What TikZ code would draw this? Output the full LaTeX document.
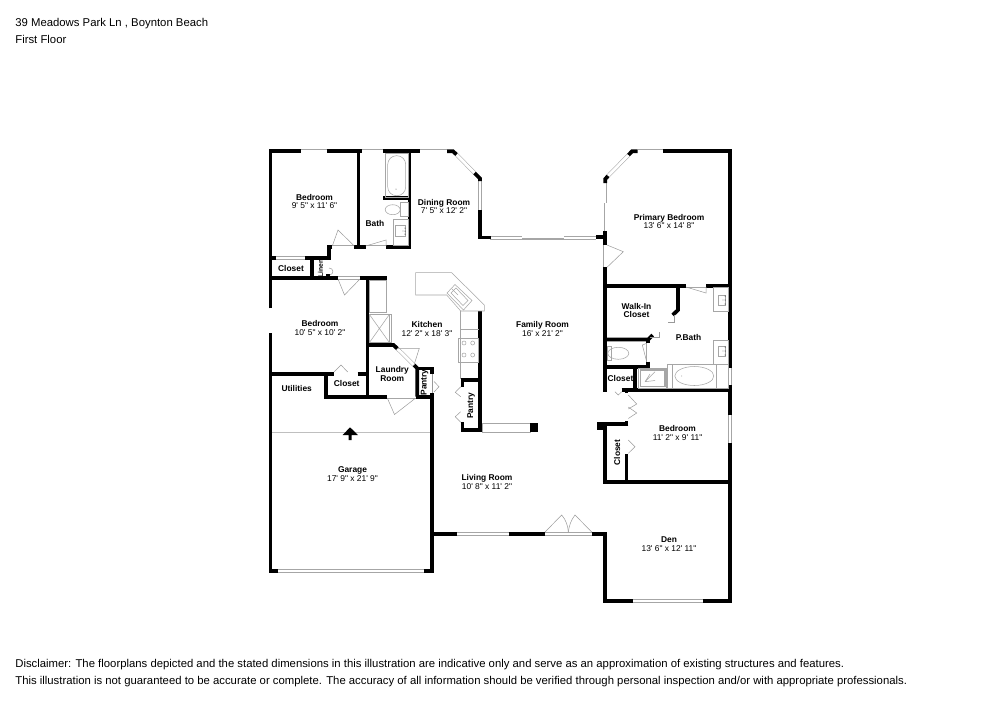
\documentclass[tikz,border=0pt]{standalone}
\usepackage{fontspec}
\newfontfamily\planfont{Liberation Sans}
\tikzset{
    wall/.style={line width=2.15pt, line join=miter},
    win/.style={draw=black!35, line width=0.3pt, double=white, double distance=1.6pt},
    fixture/.style={draw=black!35, line width=0.3pt},
    door/.style={draw=black!40, line width=0.28pt},
    roomlabel/.style={font=\planfont\fontsize{4.78}{5.05}\selectfont, align=center, inner sep=0pt},
    smalllabel/.style={font=\planfont\bfseries\fontsize{4.78}{5.05}\selectfont, align=center, inner sep=0pt},
    infotext/.style={font=\planfont\fontsize{6.45}{7}\selectfont, anchor=base west, inner sep=0pt}
}

\begin{document}
\begin{tikzpicture}[x=0.02cm, y=-0.02cm]
    \fill[white] (0,0) rectangle (1000,707);
    \useasboundingbox (0,0) rectangle (1000,707);
    % header and footer
    \node (address) at (15,26) [infotext] {39 Meadows Park Ln , Boynton Beach};
    \node (floorname) at (15,43.5) [infotext] {First Floor};
    \node (disclaimerA) at (15,667) [infotext] {Disclaimer: The floorplans depicted and the stated dimensions in this illustration are indicative only and serve as an approximation of existing structures and features.};
    \node (disclaimerB) at (15,684.5) [infotext] {This illustration is not guaranteed to be accurate or complete. The accuracy of all information should be verified through personal inspection and/or with appropriate professionals.};
    % windows and sills
    \draw[win] (301,151.3) -- (327,151.3);
    \draw[win] (362,151.3) -- (383,151.3);
    \draw[win] (420,151.3) -- (447,151.3);
    \draw[win] (456.5,154.5) -- (474.5,173);
    \draw[win] (480,181) -- (480,210);
    \draw[win] (490,238) -- (596,238);
    \draw[win] (522.3,236.7) -- (564.3,236.7);
    \draw[win] (637.7,151.3) -- (663.3,151.3);
    \draw[win] (628.5,155) -- (608,176);
    \draw[win] (604.8,183) -- (604.8,210);
    \draw[win] (606.3,203.3) -- (606.3,231);
    \draw[win] (605.3,245) -- (605.3,267.3);
    \draw[win] (270.5,308.3) -- (270.5,333.3);
    \draw[win] (276,258) -- (305,258);
    \draw[win] (332.3,247.3) -- (354.3,247.3);
    \draw[win] (365.7,247.3) -- (386,247.3);
    \draw[win] (338,278) -- (360,278);
    \draw[win] (387.3,396.7) -- (415.7,396.7);
    \draw[win] (397.3,348.6) -- (414,365);
    \draw[win] (278,571) -- (424,571);
    \draw[win] (456.7,534) -- (508.7,534);
    \draw[win] (545,534) -- (591.7,534);
    \draw[win] (632.7,601) -- (703,601);
    \draw[win] (730,368) -- (730,385);
    \draw[win] (730,415) -- (730,443.3);
    \draw[win] (686,285.7) -- (706,285.7);
    \draw[win] (648.3,343) -- (648.3,361.7);
    \draw[win] (626.5,393) -- (626.5,421);
    % half wall
    \draw[fixture] (482,423.5) rectangle (530,432);
    % garage door line
    \draw[draw=black!25, line width=0.7pt] (272,432.7) -- (431,432.7);
    % walls
    \draw[wall] (270.5,572.7) -- (270.5,333.3);
    \draw[wall] (270.5,308.3) -- (270.5,151.3) -- (301,151.3);
    \draw[wall] (327,151.3) -- (362,151.3);
    \draw[wall] (383,151.3) -- (420,151.3);
    \draw[wall] (447,151.3) -- (453,151.3) -- (456.5,154.5);
    \draw[wall] (474.5,173) -- (480,178.5) -- (480,181);
    \draw[wall] (480,210) -- (480,237.6) -- (490.5,237.6);
    \draw[wall] (358.5,151.3) -- (358.5,249);
    \draw[wall] (409.5,151.3) -- (409.5,247.3) -- (386,247.3);
    \draw[wall] (408,198.3) -- (383.3,198.3);
    \draw[wall] (354.3,247.3) -- (365.7,247.3);
    \draw[wall] (332.3,247.3) -- (328.7,247.3) -- (328.7,258) -- (305,258);
    \draw[wall] (270.5,258) -- (276,258);
    \draw[wall] (311.7,258) -- (311.7,278);
    \draw[wall] (326,276) -- (330,276);
    \draw[wall] (270.5,278) -- (338,278);
    \draw[wall] (360,278) -- (387,278);
    \draw[wall] (367.5,278) -- (367.5,398);
    \draw[wall] (367.5,345) -- (393.5,345) -- (397.3,348.6);
    \draw[wall] (414,365) -- (417.3,368.3) -- (417.3,396.7);
    \draw[wall] (415.7,368.5) -- (432.3,368.5) -- (432.3,374);
    \draw[wall] (270.5,374.3) -- (334,374.3);
    \draw[wall] (357.7,374.3) -- (367.5,374.3);
    \draw[wall] (326,374.3) -- (326,396.7) -- (387.3,396.7);
    \draw[wall] (415.7,396.7) -- (432.3,396.7);
    \draw[wall] (432.3,393) -- (432.3,572.7);
    \draw[wall] (270.5,571) -- (278,571);
    \draw[wall] (424,571) -- (434,571);
    \draw[wall] (432.3,534) -- (456.7,534);
    \draw[wall] (508.7,534) -- (545,534);
    \draw[wall] (591.7,534) -- (605.3,534) -- (605.3,601) -- (632.7,601);
    \draw[wall] (703,601) -- (730,601) -- (730,443.3);
    \draw[wall] (730,415) -- (730,385);
    \draw[wall] (730,368) -- (730,151.3) -- (663.3,151.3);
    \draw[wall] (637.7,151.3) -- (632,151.3) -- (628.5,155);
    \draw[wall] (608,176) -- (605.3,179) -- (605.3,183);
    \draw[wall] (605.3,231) -- (605.3,245);
    \draw[wall] (596,237) -- (605.3,237);
    \draw[wall] (605.3,267.3) -- (605.3,391.7);
    \draw[wall] (605.3,285.7) -- (686,285.7);
    \draw[wall] (706,285.7) -- (730,285.7);
    \draw[wall] (678,285.7) -- (678,310) -- (672.7,315);
    \draw[wall] (605.3,339.5) -- (648.3,339.5) -- (652.7,335);
    \draw[wall] (648.3,339.5) -- (648.3,343);
    \draw[wall] (648.3,361.7) -- (648.3,366.7) -- (605.3,366.7);
    \draw[wall] (635.3,366.7) -- (635.3,390);
    \draw[wall] (621.7,390) -- (730,390);
    \draw[wall] (626.5,390) -- (626.5,393);
    \draw[wall] (626.5,421) -- (626.5,425.7);
    \draw[wall] (628.3,423.7) -- (598,423.7);
    \draw[wall] (626.5,454) -- (626.5,482);
    \draw[wall] (605.3,423.7) -- (605.3,482) -- (730,482);
    \fill (597.3,421.7) rectangle (607.3,430);
    % pantry and post by the family room
    \draw[wall] (480,311) -- (480,432) ;
    \draw[wall] (460.7,380) -- (480,380);
    \draw[wall] (462.5,380) -- (462.5,386.7);
    \draw[wall] (462.5,422) -- (462.5,430) -- (482,430);
    \fill (530,423.3) rectangle (538,432);
    \fill (460,315) rectangle (461.4,318);
    % doors
    \draw[door] (332.3,246) -- (338,230) -- (354.3,246);
    \draw[door] (365.7,246) -- (386,240) -- (386,246);
    \draw[door] (338,279) -- (344.5,295) -- (360,279);
    \draw[door] (329,268) .. controls (334,268) and (334,274) .. (330,275);
    \draw[door] (387.3,398) -- (394.5,414.5) -- (415.7,398);
    \draw[door] (397.3,348.3) -- (419.3,348.3) -- (414,365);
    \draw[door] (334,372) -- (341,365) -- (347.7,372);
    \draw[door] (432.3,374) -- (432.3,393);
    \draw[door] (434,381.5) -- (439,386.7) -- (434,392);
    \draw[door] (460.7,386.7) -- (455.3,392.3) -- (460.7,396.7);
    \draw[door] (460.7,411.7) -- (455.3,416.7) -- (460.7,422.3);
    \draw[door] (607,245) -- (623.3,251.7) -- (607,267.3);
    \draw[door] (686,287) -- (706,293) -- (706,287);
    \draw[door] (674,315) -- (674,322.7) -- (668,322.7);
    \draw[door] (650,337.3) -- (659.3,337.3) -- (659.3,331.7);
    \draw[door] (646.7,343.3) -- (642.3,345) -- (646.7,361.7);
    \draw[door] (615,391.7) -- (618.3,395) -- (621.7,391.7);
    \draw[door] (628.3,395) -- (636.7,404) -- (628.3,409);
    \draw[door] (628.3,407) -- (636.7,413) -- (628.3,418.5);
    \draw[door] (628.3,440) -- (635,446.7) -- (628.3,453.3);
    \draw[door] (545,532) -- (561.7,515) .. controls (566,520) and (568,526) .. (568.3,532);
    \draw[door] (568.3,532) .. controls (569,526) and (571,520) .. (575,515) -- (591.7,532);
    % bath fixtures
    \draw[fixture] (385,153) rectangle (408,197);
    \draw[fixture, rounded corners=5pt] (387.7,155.7) rectangle (405.7,195.7);
    \fill[black!70] (396,189) circle [radius=0.5];
    \draw[fixture] (400.7,202) rectangle (408,216);
    \draw[fixture] (392.7,209.7) ellipse [x radius=7.5, y radius=5];
    \draw[fixture] (393.3,219) rectangle (408,245);
    \draw[fixture] (395,225) rectangle (405,236.7);
    \fill (405,228) circle [radius=0.5] (405,231) circle [radius=0.5] (405,234) circle [radius=0.5] (403,231) circle [radius=0.4];
    % closet and vent by the kitchen
    \draw[fixture] (369.3,280) rectangle (386.7,312.7);
    \draw[fixture] (369.3,314.3) rectangle (391.7,342.7);
    \draw[fixture] (369.3,314.3) -- (389.5,342.7) (389.5,314.3) -- (369.3,342.7);
    \draw[fixture] (389.5,314.3) -- (389.5,342.7);
    % kitchen bar and counter
    \draw[fixture] (415.7,272.7) -- (451.7,272.7) -- (484.3,305) -- (484.3,311) -- (478.7,311) -- (460.7,311) -- (446.7,295) -- (415.7,295) -- cycle;
    \draw[fixture] (455,284.5) -- (447,293) -- (463.5,310) -- (472,300.5) -- cycle;
    \draw[fixture] (456,288) -- (451,293) -- (463,305.5) -- (468,300.5) -- cycle;
    \draw[fixture] (452,289) -- (458,295);
    \draw[fixture] (460.7,311) -- (460.7,379) (460.7,329.3) -- (478.7,329.3);
    \draw[fixture] (458,338) rectangle (478.7,362);
    \draw[fixture] (464,343) circle [radius=2] (472.7,343) circle [radius=2] (464,355) circle [radius=2] (472.7,355) circle [radius=2];
    % primary bath fixtures
    \draw[fixture] (713.3,287.3) rectangle (728.3,311.7);
    \draw[fixture] (718.3,295) rectangle (725,305);
    \fill (725,296) circle [radius=0.5] (725,300) circle [radius=0.5] (725,304) circle [radius=0.5] (723,300) circle [radius=0.4];
    \draw[fixture] (713.3,340) rectangle (728.3,364);
    \draw[fixture] (718.3,346) rectangle (725,356);
    \fill (725,347) circle [radius=0.5] (725,351) circle [radius=0.5] (725,355) circle [radius=0.5] (723,351) circle [radius=0.4];
    \draw[fixture] (607.3,346.7) rectangle (611,360);
    \draw[fixture] (618.3,353.3) ellipse [x radius=10.5, y radius=6];
    \draw[fixture] (667.3,364.3) rectangle (728.3,388);
    \draw[fixture] (672.3,364.3) -- (672.3,388) (716.7,364.3) -- (716.7,388);
    \draw[fixture] (694.3,376) ellipse [x radius=19.5, y radius=9.5];
    \fill[black!70] (681.7,376) circle [radius=0.4];
    \draw[fixture] (638.3,368.3) rectangle (666.7,388.3);
    \draw[fixture, line width=0.6pt] (640.7,370) rectangle (665,386.7);
    \draw[fixture] (645,381.7) -- (655,371.7) (645,381.7) -- (655,380.5) (645,381.7) -- (650,374);
    % garage door arrow
    \fill (342.7,435) -- (350,427.3) -- (358,435) -- (351.5,435) -- (351.5,440) -- (348.5,440) -- (348.5,435) -- cycle;
    % room labels
    \node (bedroomA) at (314.5,201.5) [roomlabel] {\textbf{Bedroom}\\9' 5" x 11' 6"};
    \node (bathA) at (375,223.5) [smalllabel] {Bath};
    \node (dining) at (444,206.5) [roomlabel] {\textbf{Dining Room}\\7' 5" x 12' 2"};
    \node (closetA) at (291,268.5) [smalllabel] {Closet};
    \node (linen) at (320.5,268.5) [smalllabel, rotate=90, scale=0.8] {Linen};
    \node (bedroomB) at (320,328) [roomlabel] {\textbf{Bedroom}\\10' 5" x 10' 2"};
    \node (kitchen) at (427,329) [roomlabel] {\textbf{Kitchen}\\12' 2" x 18' 3"};
    \node (family) at (542.5,329) [roomlabel] {\textbf{Family Room}\\16' x 21' 2"};
    \node (utilities) at (296.7,388) [smalllabel] {Utilities};
    \node (closetB) at (346.7,383.3) [smalllabel] {Closet};
    \node (laundry) at (392.3,374) [smalllabel] {Laundry\\Room};
    \node (pantryA) at (424.5,382.5) [smalllabel, rotate=90] {Pantry};
    \node (pantryB) at (471,405.7) [smalllabel, rotate=90] {Pantry};
    \node (primary) at (669,221.5) [roomlabel] {\textbf{Primary Bedroom}\\13' 6" x 14' 8"};
    \node (walkin) at (636.5,310.5) [smalllabel] {Walk-In\\Closet};
    \node (pbath) at (688.5,337) [smalllabel] {P.Bath};
    \node (closetC) at (620.5,378) [smalllabel] {Closet};
    \node (bedroomC) at (677.5,433) [roomlabel] {\textbf{Bedroom}\\11' 2" x 9' 11"};
    \node (closetD) at (617,452.5) [smalllabel, rotate=90] {Closet};
    \node (garage) at (352.5,474.5) [roomlabel] {\textbf{Garage}\\17' 9" x 21' 9"};
    \node (living) at (487,482) [roomlabel] {\textbf{Living Room}\\10' 8" x 11' 2"};
    \node (den) at (669,544) [roomlabel] {\textbf{Den}\\13' 6" x 12' 11"};
\end{tikzpicture}
\end{document}
